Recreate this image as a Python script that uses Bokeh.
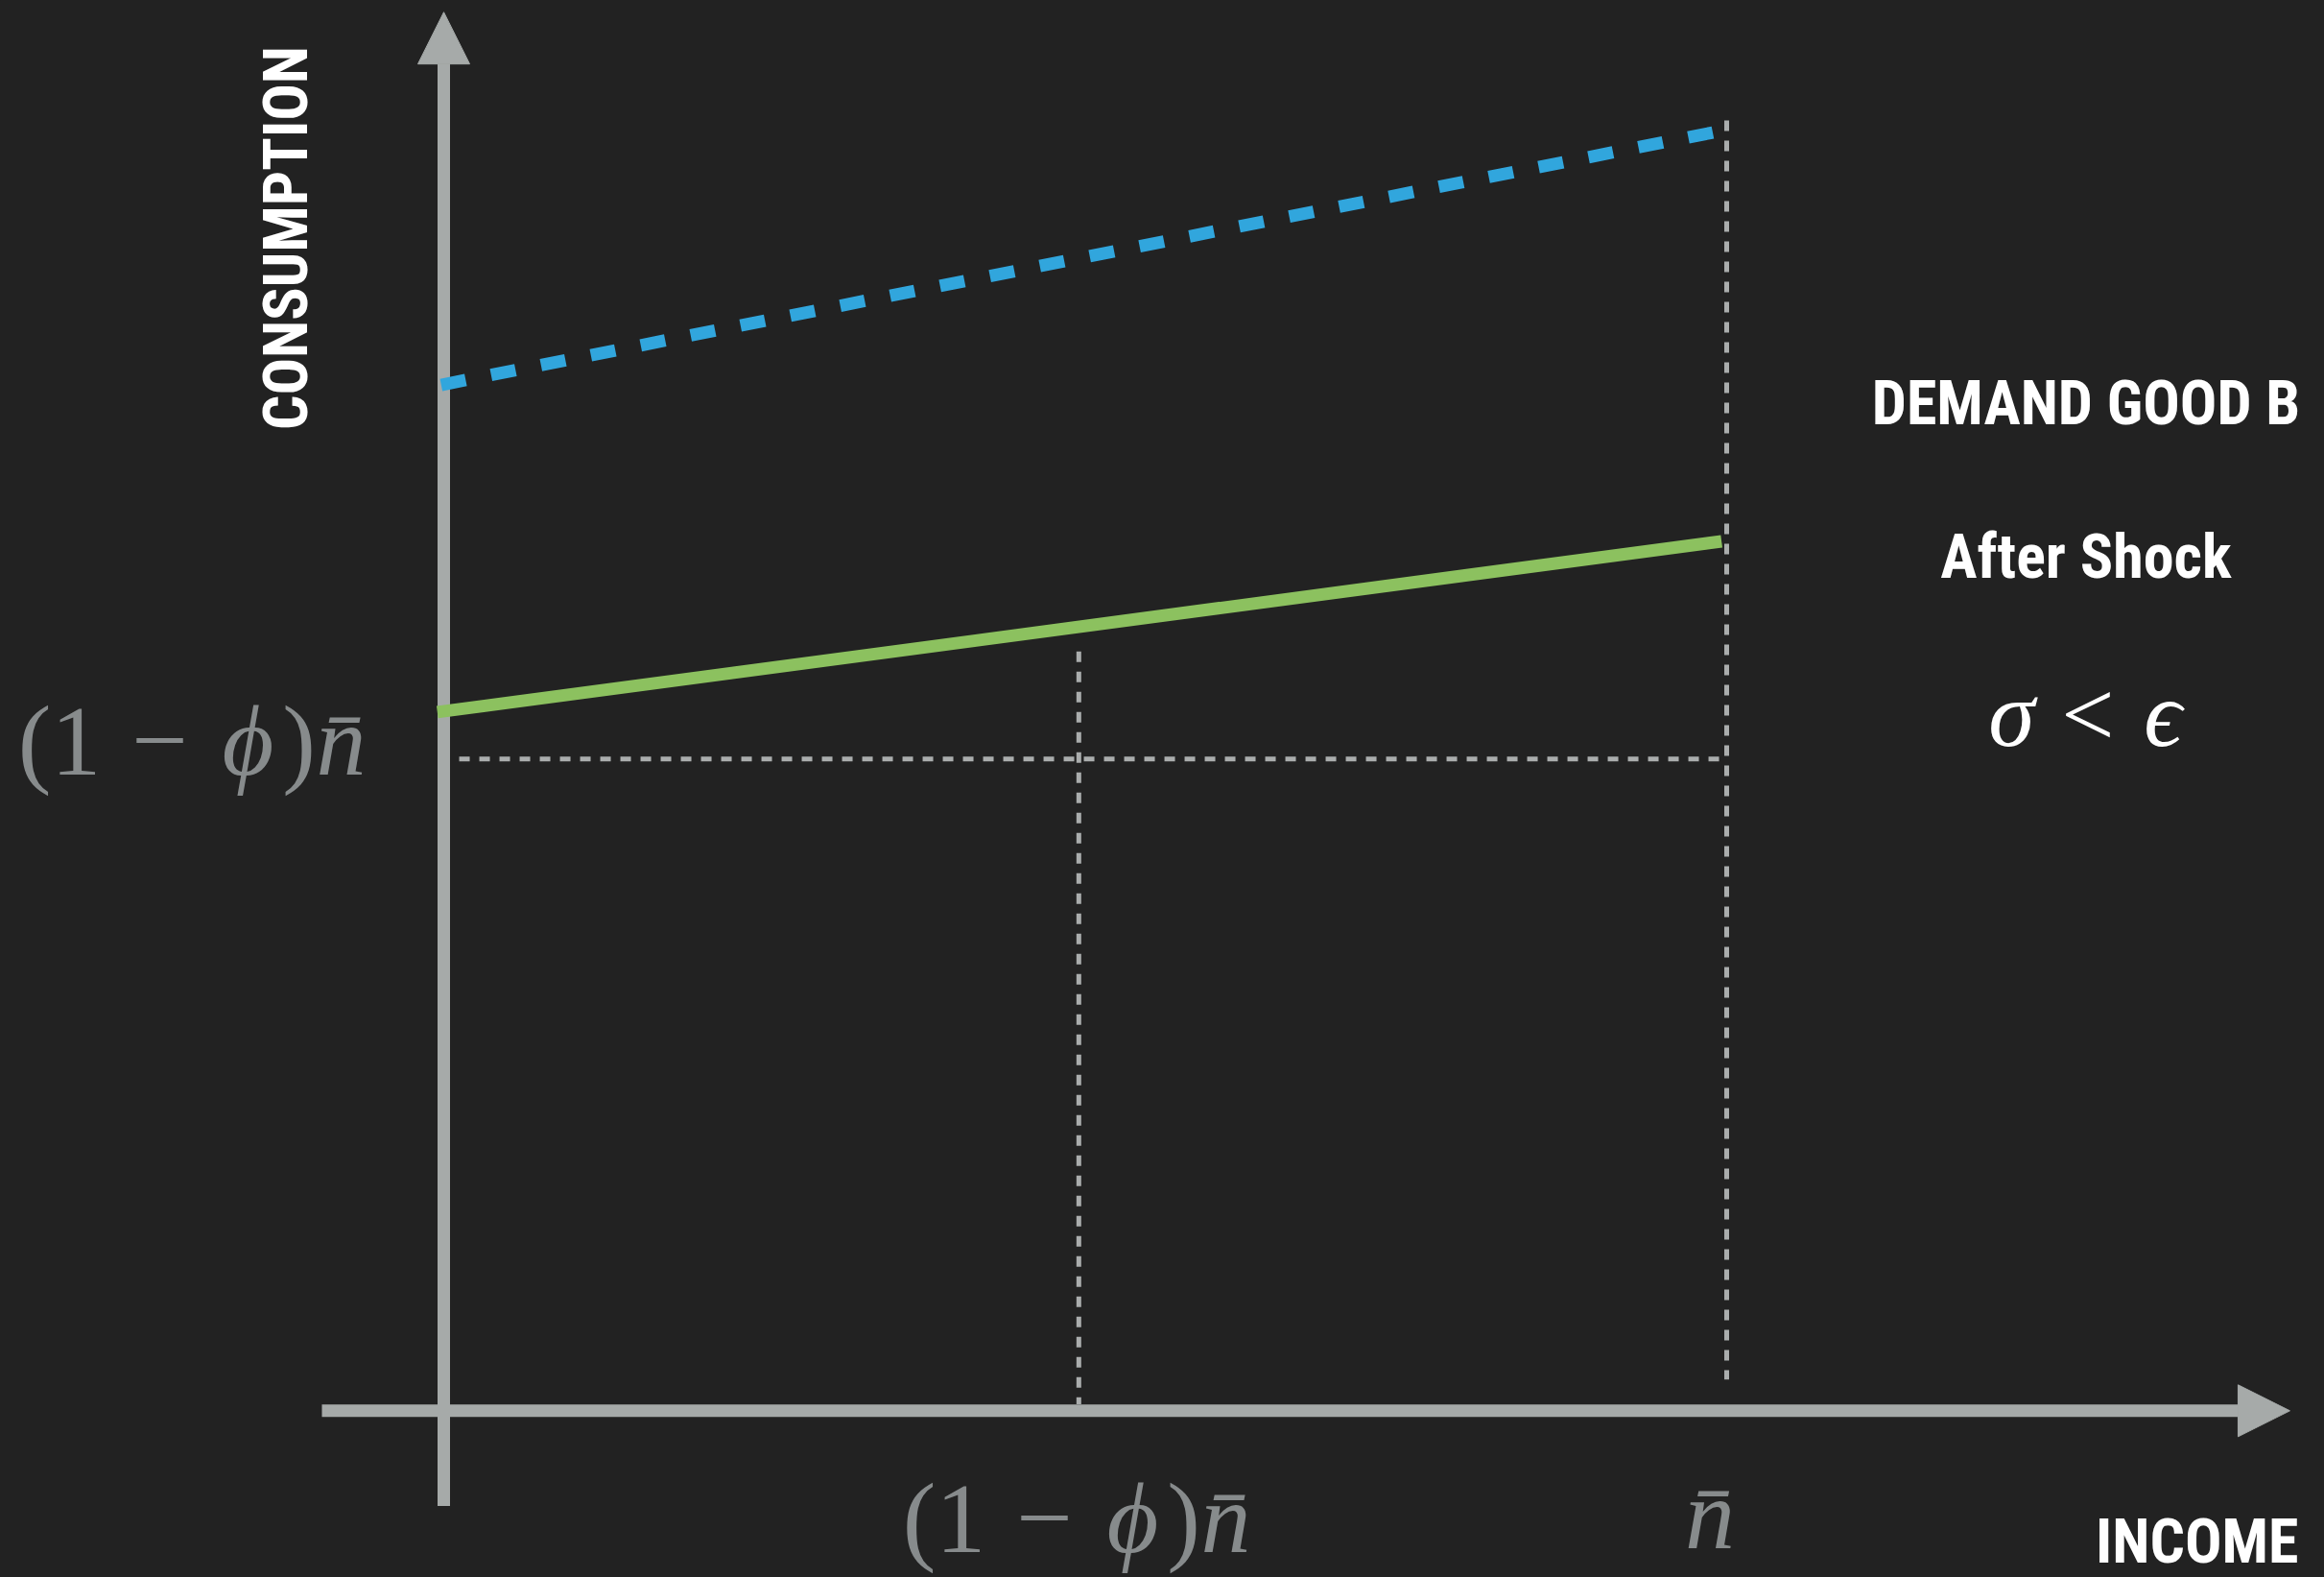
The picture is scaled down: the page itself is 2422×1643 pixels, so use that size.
import math
from bokeh.plotting import figure
from bokeh.models import Range1d, Arrow, NormalHead
from bokeh.core.properties import value
from bokeh.embed import file_html
from bokeh.resources import INLINE

# ---------------- data (schematic units: income n̄ = 1) ----------------
income_ticks = [0.495, 1.0]                 # (1-phi)n̄ , n̄
consumption_ref = 0.5                       # (1-phi)n̄ on the consumption axis

dashed_income = [-0.002, 0.996]             # blue dashed demand line
dashed_consumption = [0.787, 0.982]
solid_income = [-0.005, 0.996]              # green solid demand line
solid_consumption = [0.536, 0.667]

guide_mid_top = 0.587
guide_mid_bottom = 0.005
guide_right_top = 0.990
guide_right_bottom = 0.024
guide_h_start = 0.012

axis_x_extent = [-0.095, 1.439]
axis_y_extent = [-0.073, 1.073]

# ---------------- layout ----------------
W, H = 2422, 1643
X0, Y0 = 462.0, 1469.3       # pixel position of the origin in the page
UX, UY = 1337.0, 1358.0      # pixels per unit


def px2x(X):
    return (X - X0) / UX


def px2y(Y):
    return (Y0 - Y) / UY


# the renderer draws the alphabetic baseline about a third of an em low
SERIF_SHIFT = 0.345
SANS_SHIFT = 0.32


def base_y(Y, size, k):
    return px2y(Y - k * size)


BG = "#222222"
AX = "#a6aaa9"
GUIDE = "#aaadad"
BLUE = "#31a6dd"
GREEN = "#8cc15f"
MATH = "#878b8c"
WHITE = "#ffffff"

SANS = value("'Roboto Condensed', 'Open Sans Condensed', 'Noto Sans Condensed', Roboto, sans-serif")
SERIF = value("'Liberation Serif', 'DejaVu Serif', serif")
HEAD = 64

p = figure(width=W, height=H,
           x_range=Range1d(px2x(0), px2x(W)),
           y_range=Range1d(px2y(H), px2y(0)),
           output_backend="svg", toolbar_location=None,
           x_axis_location=None, y_axis_location=None,
           min_border=0, background_fill_color=BG, border_fill_color=BG,
           outline_line_color=None)
p.grid.visible = False

# axes with arrow heads
p.add_layout(Arrow(end=NormalHead(size=54, fill_color=AX, line_color=AX, line_width=1),
                   x_start=axis_x_extent[0], y_start=0, x_end=axis_x_extent[1], y_end=0,
                   line_color=AX, line_width=13, level="underlay"))
p.add_layout(Arrow(end=NormalHead(size=54, fill_color=AX, line_color=AX, line_width=1),
                   x_start=0, y_start=axis_y_extent[0], x_end=0, y_end=axis_y_extent[1],
                   line_color=AX, line_width=13, level="underlay"))

# guide lines
p.line([guide_h_start, income_ticks[1]], [consumption_ref, consumption_ref],
       line_color=GUIDE, line_width=5, line_dash="11 10")
p.line([income_ticks[0], income_ticks[0]], [guide_mid_top, guide_mid_bottom],
       line_color=GUIDE, line_width=5, line_dash="11 10", line_dash_offset=15)
p.line([income_ticks[1], income_ticks[1]], [guide_right_top, guide_right_bottom],
       line_color=GUIDE, line_width=5, line_dash="11 10")

# demand lines
p.line(dashed_income, dashed_consumption, line_color=BLUE, line_width=13, line_dash="26 27")
p.line(solid_income, solid_consumption, line_color=GREEN, line_width=13)


def math_label(cx, baseline_px, pieces, size, color=MATH):
    for txt, off, style in pieces:
        p.text(x=[cx + off / UX], y=[base_y(baseline_px, size, SERIF_SHIFT)], text=[txt],
               text_font=SERIF, text_font_size=f"{size}px", text_font_style=style,
               text_color=color, text_align="center", text_baseline="alphabetic")


phi_pieces = [("(1", -139, "normal"), ("\u2212", -34.5, "normal"), ("\u03d5", 57.5, "italic"),
              (")", 110.5, "normal"), ("n\u0304", 154.5, "italic")]

# (1-phi)n̄ on consumption axis
math_label(px2x(200.5), 807, phi_pieces, 104)
# tick labels on income axis
math_label(income_ticks[0] - 1.3 / UX, 1617, phi_pieces, 104)
math_label(income_ticks[1], 1613, [("n\u0304", -17.5, "italic")], 104)

# sigma < epsilon
math_label(px2x(2175.5), 777,
           [("\u03c3", -79.5, "italic"), ("<", 0, "normal"), ("\u03f5", 78, "italic")],
           98, color=WHITE)


def head_text(X, baseline_px, txt, align="center"):
    p.text(x=[px2x(X)], y=[base_y(baseline_px, HEAD, SANS_SHIFT)], text=[txt], text_font=SANS,
           text_font_size=f"{HEAD}px", text_font_style="bold", text_color=WHITE,
           text_align=align, text_baseline="alphabetic")


head_text(2173.5, 440, "DEMAND GOOD B")
head_text(2173.5, 600, "After Shock")
head_text(2395, 1626, "INCOME", align="right")

# vertical axis title (rotated; baseline lies on its right side)
p.text(x=[px2x(318 - SANS_SHIFT * HEAD)], y=[px2y(247.5)], text=["CONSUMPTION"], text_font=SANS,
       text_font_size=f"{HEAD}px", text_font_style="bold", text_color=WHITE,
       text_align="center", text_baseline="alphabetic", angle=math.pi / 2)

html = file_html(p, INLINE)
html = html.replace("<head>", "<head><style>html, body { background: #222222; }</style>", 1)
open("out.html", "w").write(html)
